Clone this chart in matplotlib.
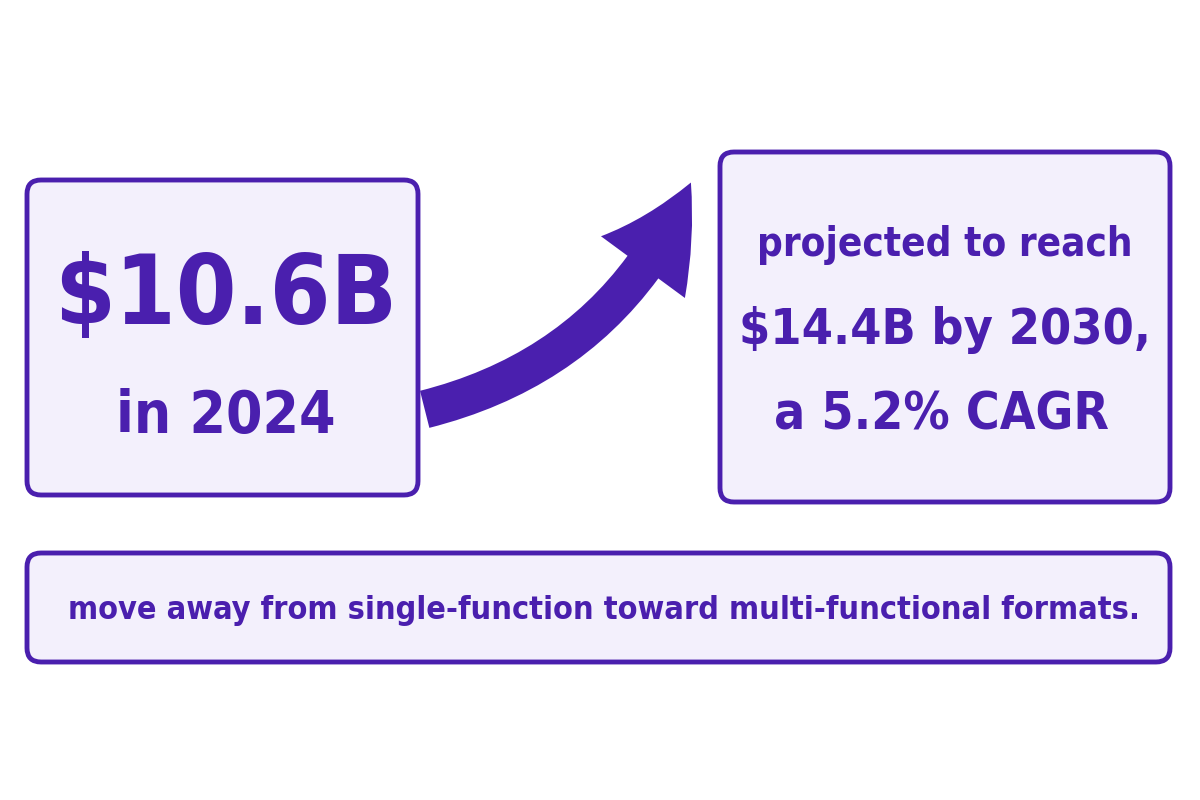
import matplotlib.pyplot as plt
from matplotlib.patches import FancyBboxPatch, FancyArrowPatch

# texts of the infographic
left_value = "$10.6B"
left_year = "in 2024"
right_lines = ["projected to reach", "$14.4B by 2030,", "a 5.2% CAGR"]
bottom_text = "move away from single-function toward multi-functional formats."

purple = "#4a1fae"
fill = "#f3f0fc"
font = dict(family="DejaVu Sans", fontstretch="condensed", fontweight="bold", color=purple)

fig = plt.figure(figsize=(12, 8), dpi=100)
ax = fig.add_axes([0, 0, 1, 1])
ax.set_xlim(0, 1200)
ax.set_ylim(800, 0)
ax.axis("off")

def box(x0, y0, x1, y1):
    ax.add_patch(FancyBboxPatch((x0, y0), x1 - x0, y1 - y0,
                                boxstyle="round,pad=0,rounding_size=14",
                                fc=fill, ec=purple, lw=3.5))

box(27, 180, 418, 495)
box(720, 152, 1170, 502)
box(27, 553, 1170, 662)

ax.text(226, 297, left_value, ha="center", va="center", fontsize=70, **font)
ax.text(226, 416, left_year, ha="center", va="center", fontsize=42, **font)

ax.text(945, 245, right_lines[0], ha="center", va="center", fontsize=29, **font)
ax.text(945, 330, right_lines[1], ha="center", va="center", fontsize=36, **font)
ax.text(942, 415, right_lines[2], ha="center", va="center", fontsize=37, **font)

ax.text(604, 610, bottom_text, ha="center", va="center", fontsize=23.2, **font)

arrow = FancyArrowPatch((422, 410), (692, 180),
                        connectionstyle="arc3,rad=0.25",
                        arrowstyle="simple,head_width=3.0,head_length=2.8,tail_width=1.1",
                        mutation_scale=25, fc=purple, ec=purple, lw=0)
ax.add_patch(arrow)

fig.savefig("out.png", dpi=100, facecolor="white")
